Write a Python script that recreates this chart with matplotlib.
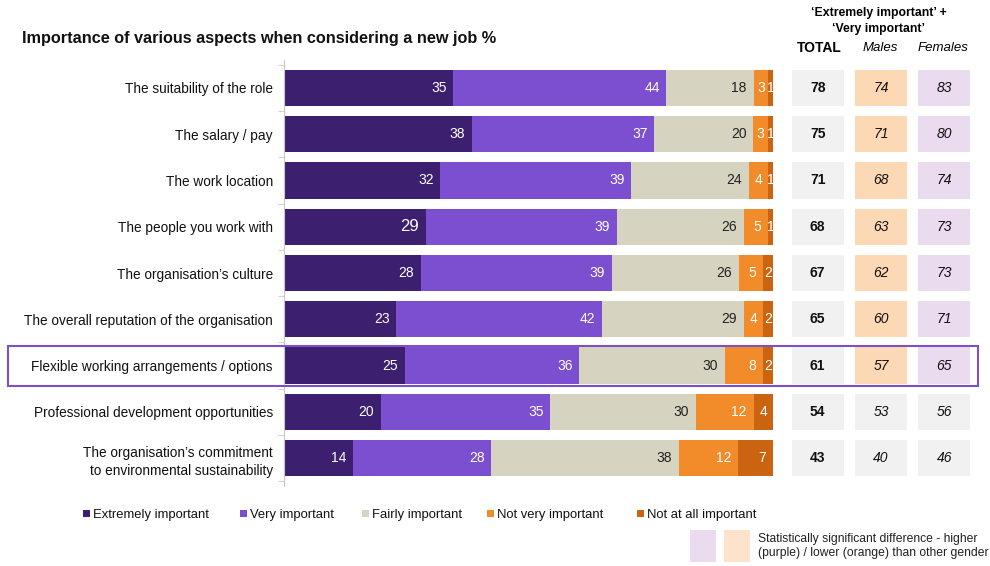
import matplotlib
matplotlib.use("Agg")
import matplotlib.pyplot as plt
from matplotlib.patches import Rectangle
import numpy as np

plt.rcParams["font.family"] = ["Liberation Sans", "DejaVu Sans"]

# === data ===
categories = [
    "The suitability of the role",
    "The salary / pay",
    "The work location",
    "The people you work with",
    "The organisation\u2019s culture",
    "The overall reputation of the organisation",
    "Flexible working arrangements / options",
    "Professional development opportunities",
    "The organisation\u2019s commitment\nto environmental sustainability",
]
series_names = ["Extremely important", "Very important", "Fairly important",
                "Not very important", "Not at all important"]
extremely = [35, 38, 32, 29, 28, 23, 25, 20, 14]
very = [44, 37, 39, 39, 39, 42, 36, 35, 28]
fairly = [18, 20, 24, 26, 26, 29, 30, 30, 38]
not_very = [3, 3, 4, 5, 5, 4, 8, 12, 12]
not_all = [1, 1, 1, 1, 2, 2, 2, 4, 7]

total = [78, 75, 71, 68, 67, 65, 61, 54, 43]
males = [74, 71, 68, 63, 62, 60, 57, 53, 40]
females = [83, 80, 74, 73, 73, 71, 65, 56, 46]
# significance flags: "low" orange, "high" purple, "" none
males_sig = ["low"] * 7 + [""] * 2
females_sig = ["high"] * 7 + [""] * 2
highlight_row = 6

# === styles ===
colors = ["#3c1f6e", "#7c4fd0", "#d6d3c1", "#f28b2a", "#cb6410"]
text_colors = ["white", "white", "#222222", "white", "white"]
grey_cell = "#f1f1f1"
peach_cell = "#fdd8b5"
lilac_cell = "#eadbef"

W, H = 990, 566
fig = plt.figure(figsize=(W / 100, H / 100), dpi=100)

# bar axes (pixel layout converted to figure fractions)
n = len(categories)
row_px = 46.25
top_px = 88 - 0.6 * row_px
ax_h = (n - 1 + 1.2) * row_px
ax = fig.add_axes([284 / W, 1 - (top_px + ax_h) / H, 489 / W, ax_h / H])
ax.set_xlim(0, 100)
ax.set_ylim(n - 1 + 0.6, -0.6)

y = np.arange(n)
data = np.array([extremely, very, fairly, not_very, not_all], dtype=float)
# rounded figures don't always add up to 100; bars are drawn as shares
shares = data / data.sum(axis=0) * 100
left = np.zeros(n)
for k, vals in enumerate(shares):
    ax.barh(y, vals, left=left, height=0.78, color=colors[k])
    for i, w in enumerate(vals):
        v = int(data[k, i])
        fs = 12 if (k == 0 and i == 3) else 10
        if v >= 5:
            ax.text(left[i] + w - 1.4, i, str(v), ha="right", va="center",
                    color=text_colors[k], fontsize=fs)
        else:
            ax.text(left[i] + w / 2, i, str(v), ha="center", va="center",
                    color=text_colors[k], fontsize=fs)
    left += vals

ax.set_yticks(y)
ax.set_yticklabels(categories, fontsize=9.8, color="#111111", linespacing=1.45)
ax.tick_params(axis="y", length=0, pad=8)
ax.set_yticks(np.arange(-0.5, n, 1), minor=True)
ax.tick_params(axis="y", which="minor", length=4, color="#c8c8c8")
ax.set_xticks([])
for s in ["top", "right", "bottom"]:
    ax.spines[s].set_visible(False)
ax.spines["left"].set_color("#c8c8c8")
ax.spines["left"].set_linewidth(0.8)

# table axes sharing rows
tax = fig.add_axes([786 / W, 1 - (top_px + ax_h) / H, 190 / W, ax_h / H], sharey=ax)
tax.set_xlim(0, 3)
tax.axis("off")
cw, ch = 0.82, 0.78
sig_col = {"low": peach_cell, "high": lilac_cell, "": grey_cell}
for i in range(n):
    cols = [(total[i], grey_cell, "bold", "normal"),
            (males[i], sig_col[males_sig[i]], "normal", "italic"),
            (females[i], sig_col[females_sig[i]], "normal", "italic")]
    for j, (val, fc, fw, st) in enumerate(cols):
        tax.add_patch(Rectangle((j + 0.5 - cw / 2, i - ch / 2), cw, ch,
                                facecolor=fc, edgecolor="none"))
        tax.text(j + 0.5, i, str(val), ha="center", va="center", fontsize=10,
                 fontweight=fw, fontstyle=st, color="#111111")

# headers
fig.text(22 / W, 1 - 38 / H, "Importance of various aspects when considering a new job %",
         fontsize=11.7, fontweight="bold", color="#111111", va="center")
fig.text(879 / W, 1 - 21 / H, "\u2018Extremely important\u2019 +\n\u2018Very important\u2019",
         ha="center", va="center", fontsize=8.8, fontweight="bold", linespacing=1.35)
fig.text(819 / W, 1 - 48 / H, "TOTAL", ha="center", va="center", fontsize=10, fontweight="bold")
fig.text(880 / W, 1 - 48 / H, "Males", ha="center", va="center", fontsize=9.5, fontstyle="italic")
fig.text(943 / W, 1 - 48 / H, "Females", ha="center", va="center", fontsize=9.5, fontstyle="italic")

# highlight box around one row
hy = 88 + highlight_row * row_px
fig.add_artist(Rectangle((8 / W, 1 - (hy + 20) / H), 970 / W, 40 / H,
                         transform=fig.transFigure, facecolor="none",
                         edgecolor="#7a52c7", linewidth=1.5))

# legend, laid out by hand to follow the original spacing
legend_x = [83, 240, 362, 487, 637]
legend_y = 515
for x0, c, name in zip(legend_x, colors, series_names):
    fig.add_artist(Rectangle((x0 / W, 1 - (legend_y + 2) / H), 7 / W, 7 / H,
                             transform=fig.transFigure, facecolor=c, edgecolor="none"))
    fig.text((x0 + 10) / W, 1 - legend_y / H, name, ha="left", va="center",
             fontsize=9.4, color="#111111")

# significance key
fig.add_artist(Rectangle((690 / W, 1 - 562 / H), 26 / W, 32 / H, transform=fig.transFigure,
                         facecolor=lilac_cell, edgecolor="none"))
fig.add_artist(Rectangle((724 / W, 1 - 562 / H), 26 / W, 32 / H, transform=fig.transFigure,
                         facecolor="#fde3cc", edgecolor="none"))
fig.text(758 / W, 1 - 546 / H,
         "Statistically significant difference - higher\n(purple) / lower (orange) than other gender",
         ha="left", va="center", fontsize=8.7, color="#222222", linespacing=1.3)

fig.savefig("out.png", dpi=100)
